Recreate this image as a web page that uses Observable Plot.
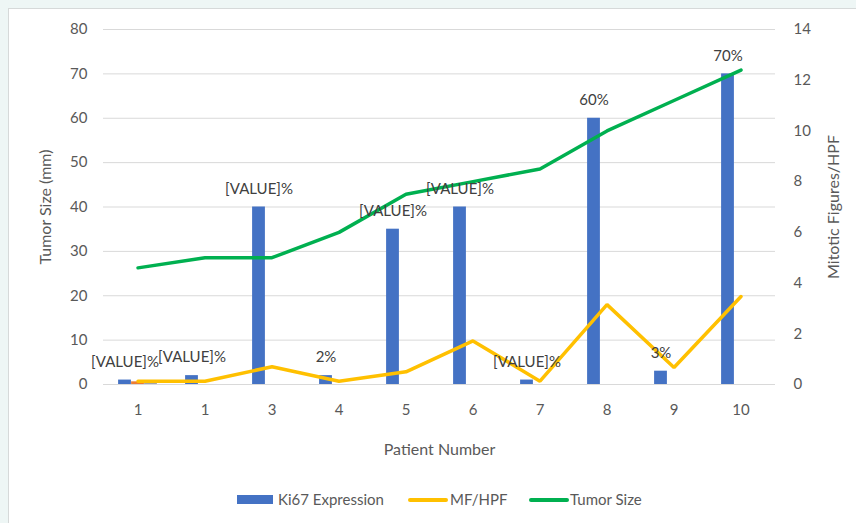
<!DOCTYPE html>
<html>
<head>
<meta charset="utf-8">
<script src="https://cdn.jsdelivr.net/npm/d3@7"></script>
<script src="https://cdn.jsdelivr.net/npm/@observablehq/plot@0.6"></script>
<style>
  html, body { margin: 0; padding: 0; }
  body { width: 856px; height: 523px; background: #eef6f5; position: relative; overflow: hidden; font-family: Lato, "Open Sans", sans-serif; }
  #box { position: absolute; left: 8px; top: 8px; width: 860px; height: 530px; background: #fff; border-left: 1px solid #d6d9d9; border-top: 1px solid #d6d9d9; }
  #chart { position: absolute; left: 0; top: 0; }
  #legend { position: absolute; top: 489px; left: 0; width: 856px; height: 20px; font-size: 15px; color: #595959; }
  .li { position: absolute; top: 0; line-height: 20px; white-space: nowrap; }
  .sw { position: absolute; }
</style>
</head>
<body>
<div id="box"></div>
<div id="chart"></div>
<div id="legend">
  <div class="sw" style="left:237px;top:6px;width:36px;height:9px;background:#4472c4"></div>
  <div class="li" style="left:278px">Ki67 Expression</div>
  <div class="sw" style="left:408px;top:9px;width:40px;height:4px;border-radius:2px;background:#ffc000"></div>
  <div class="li" style="left:450px">MF/HPF</div>
  <div class="sw" style="left:529px;top:9px;width:40px;height:4px;border-radius:2px;background:#00b050"></div>
  <div class="li" style="left:570px">Tumor Size</div>
</div>
<script>
// Categories (tick labels as shown on the x axis)
const patients = ["1", "1", "3", "4", "5", "6", "7", "8", "9", "10"];
// Ki67 expression bars (left axis)
const ki67 = [1, 2, 40, 2, 35, 40, 1, 60, 3, 70];
// Data labels shown above the bars
const ki67Labels = ["[VALUE]%", "[VALUE]%", "[VALUE]%", "2%", "[VALUE]%", "[VALUE]%", "[VALUE]%", "60%", "3%", "70%"];
// Small extra cluster bars visible only at the first patient (left axis)
const extraOrange = [0.6, 0, 0, 0, 0, 0, 0, 0, 0, 0];
const extraGrey = [0.3, 0, 0, 0, 0, 0, 0, 0, 0, 0];
// MF/HPF line (right axis)
const mfHpf = [0.13, 0.13, 0.7, 0.13, 0.5, 1.72, 0.13, 3.15, 0.67, 3.47];
// Tumor size line (right axis)
const tumorSize = [4.6, 5, 5, 6, 7.5, 8, 8.5, 10, 11.2, 12.4];
// Axis ticks
const leftTicks = [0, 10, 20, 30, 40, 50, 60, 70, 80];
const rightTicks = [0, 2, 4, 6, 8, 10, 12, 14];
// Axis titles
const leftTitle = "Tumor Size (mm)";
const rightTitle = "Mitotic Figures/HPF";
const xTitle = "Patient Number";

const leftMax = 80, rightMax = 14;
const k = leftMax / rightMax; // secondary-axis mapping onto the primary y scale

const idx = patients.map((_, i) => i);
const rows = idx.map(i => ({i, patient: patients[i], ki67: ki67[i], label: ki67Labels[i],
  o: extraOrange[i], g: extraGrey[i], mf: mfHpf[i], ts: tumorSize[i]}));

const textColor = "#595959";
const titleSize = 16;

const chart = Plot.plot({
  width: 856,
  height: 470,
  marginLeft: 103,
  marginRight: 81,
  marginTop: 29,
  marginBottom: 86,
  style: {fontFamily: "Lato, 'Open Sans', sans-serif", fontSize: "15px", color: textColor, background: "transparent", overflow: "visible"},
  x: {type: "band", domain: idx, padding: 0},
  y: {domain: [0, leftMax]},
  marks: [
    Plot.gridY(leftTicks, {stroke: "#d9d9d9", strokeOpacity: 1, strokeWidth: 1}),
    Plot.axisY({anchor: "left", ticks: leftTicks, tickSize: 0, tickPadding: 16, label: null}),
    Plot.axisY(rightTicks.map(v => v * k), {anchor: "right", tickSize: 0, tickPadding: 18,
      tickFormat: d => String(Math.round(d / k)), label: null}),
    Plot.axisX({tickSize: 0, tickPadding: 20, tickFormat: i => patients[i], label: null}),
    Plot.text([leftTitle], {frameAnchor: "left", dx: -58, rotate: -90, fontSize: titleSize, fill: textColor, textAnchor: "middle"}),
    Plot.text([rightTitle], {frameAnchor: "right", dx: 58, rotate: -90, fontSize: titleSize, fill: textColor, textAnchor: "middle"}),
    Plot.text([xTitle], {frameAnchor: "bottom", dy: 65, fontSize: titleSize, fill: textColor, textAnchor: "middle", lineAnchor: "middle"}),
    Plot.barY(rows, {x: "i", y: "ki67", fill: "#4472c4", insetLeft: 14.1, insetRight: 40.1}),
    Plot.barY(rows, {x: "i", y: "o", fill: "#ed7d31", insetLeft: 27.1, insetRight: 27.1}),
    Plot.barY(rows, {x: "i", y: "g", fill: "#a5a5a5", insetLeft: 40.1, insetRight: 14.1}),
    Plot.line(rows, {x: "i", y: d => d.mf * k, stroke: "#ffc000", strokeWidth: 3.5, strokeLinejoin: "miter", curve: "linear"}),
    Plot.line(rows, {x: "i", y: d => d.ts * k, stroke: "#00b050", strokeWidth: 3.5, strokeLinejoin: "miter", curve: "linear"}),
    Plot.text(rows, {x: "i", y: "ki67", text: "label", dx: -13, dy: -18, fill: "#404040", fontSize: 15, textAnchor: "middle"})
  ]
});
document.getElementById("chart").appendChild(chart);
</script>
</body>
</html>
